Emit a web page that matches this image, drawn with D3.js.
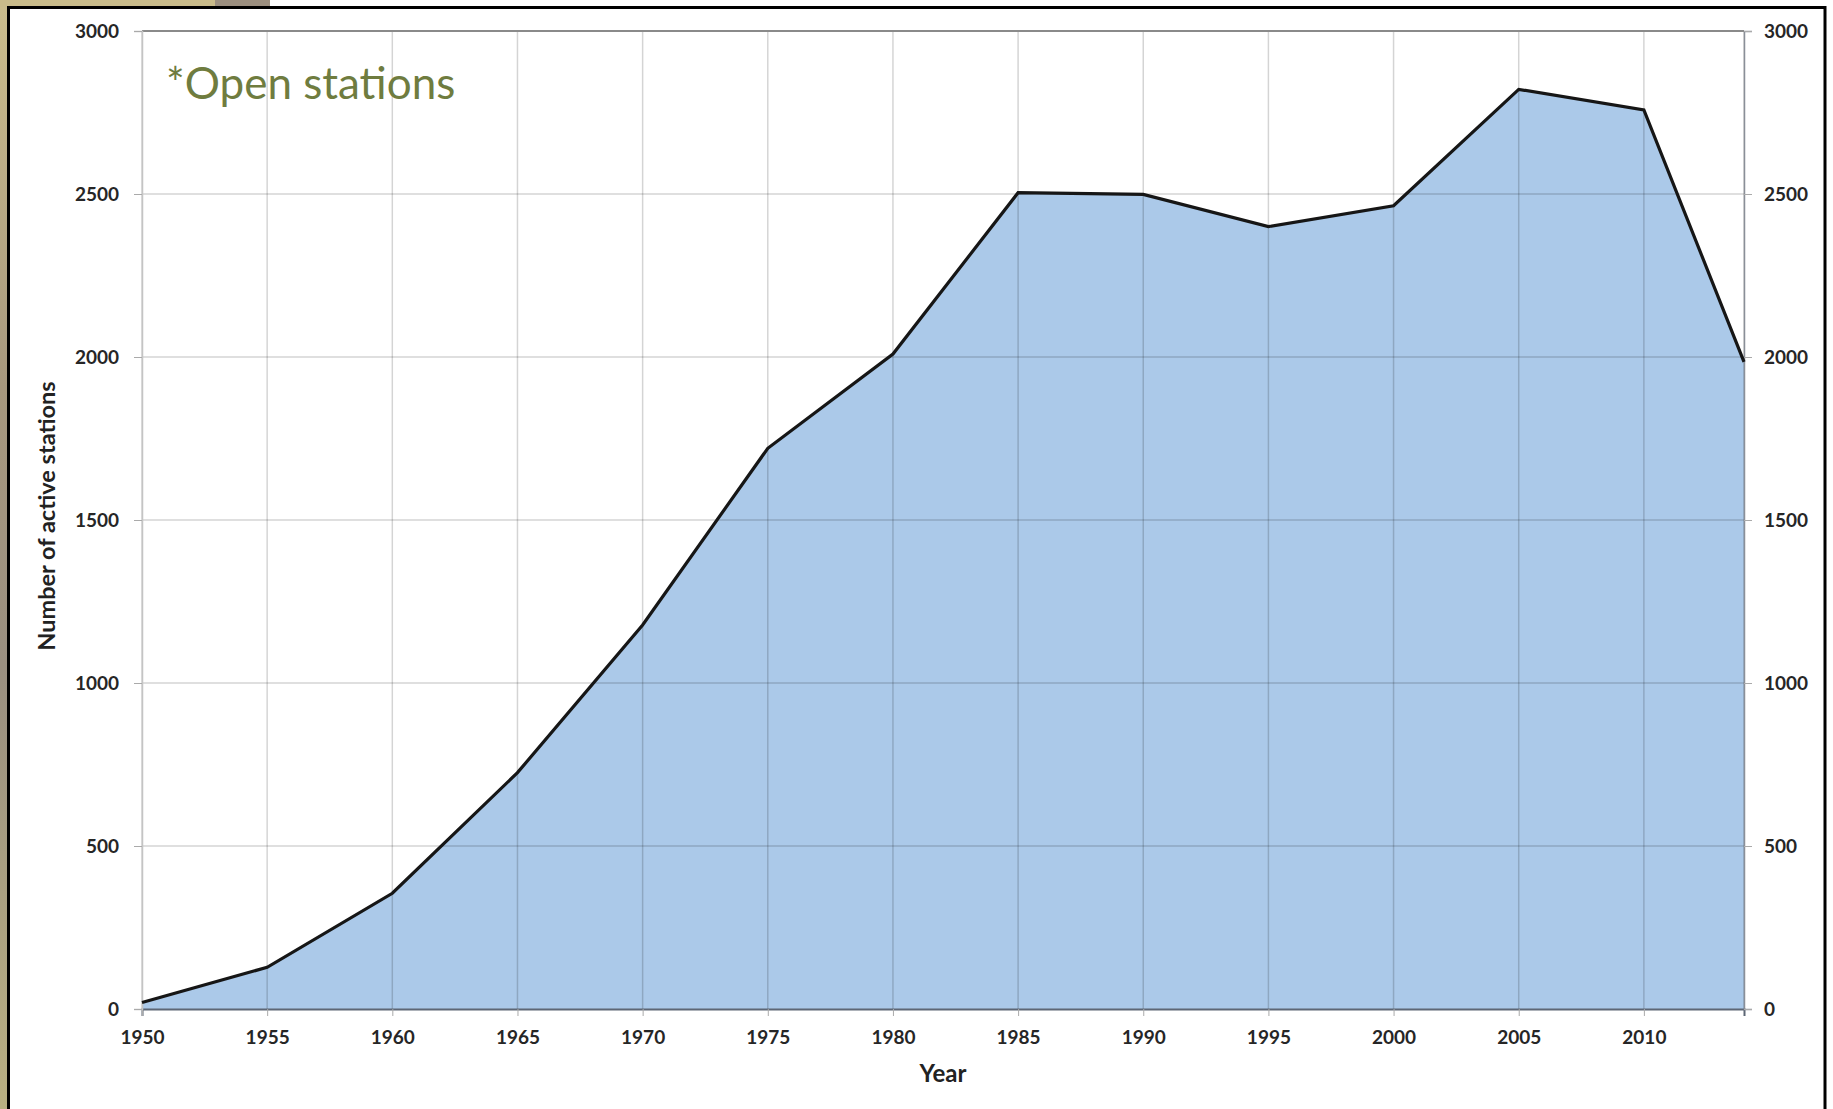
<!DOCTYPE html>
<html>
<head>
<meta charset="utf-8">
<script src="https://cdn.jsdelivr.net/npm/d3@7"></script>
<style>
  html, body { margin: 0; padding: 0; background: #fff; }
  svg { display: block; }
  .tick text { font-family: Lato, "Open Sans", sans-serif; font-weight: bold; fill: #262626; }
</style>
</head>
<body>
<svg id="chart" width="1833" height="1109"></svg>
<script>
// years and number of open stations
const years = [1950, 1955, 1960, 1965, 1970, 1975, 1980, 1985, 1990, 1995, 2000, 2005, 2010, 2014];
const stations = [20, 128, 355, 725, 1178, 1720, 2009, 2504, 2499, 2400, 2464, 2821, 2758, 1985];
const xTicks = [1950, 1955, 1960, 1965, 1970, 1975, 1980, 1985, 1990, 1995, 2000, 2005, 2010];
const yTicks = [0, 500, 1000, 1500, 2000, 2500, 3000];

const W = 1833, H = 1109;
const margin = {left: 142, right: 89, top: 31, bottom: 100};

const svg = d3.select('#chart');

// slide background around the frame
const defs = svg.append('defs');
const bg = defs.append('linearGradient').attr('id', 'bg').attr('x1', 0).attr('y1', 0).attr('x2', 0).attr('y2', 1);
bg.append('stop').attr('offset', '0%').attr('stop-color', '#cbbd8c');
bg.append('stop').attr('offset', '35%').attr('stop-color', '#a7987e');
bg.append('stop').attr('offset', '60%').attr('stop-color', '#9a8f80');
bg.append('stop').attr('offset', '100%').attr('stop-color', '#b9b082');
svg.append('rect').attr('x', 0).attr('y', 0).attr('width', 9).attr('height', H).attr('fill', 'url(#bg)');
svg.append('rect').attr('x', 0).attr('y', 0).attr('width', 215).attr('height', 7).attr('fill', '#c9bb8a');
svg.append('rect').attr('x', 215).attr('y', 0).attr('width', 55).attr('height', 7).attr('fill', '#9c8f7f');

// black frame
svg.append('rect')
  .attr('x', 8.5).attr('y', 7.5)
  .attr('width', 1825 - 8.5).attr('height', H + 20)
  .attr('fill', '#fff').attr('stroke', '#000').attr('stroke-width', 3);

const x = d3.scaleLinear().domain([1950, 2014]).range([margin.left, W - margin.right]);
const y = d3.scaleLinear().domain([0, 3000]).range([H - margin.bottom, margin.top]);

// area
const area = d3.area().x((d, i) => x(years[i])).y0(y(0)).y1(d => y(d));
svg.append('path').datum(stations)
  .attr('d', area)
  .attr('fill', '#abc9e9');

// gridlines on top, half see-through so they darken over the blue
const grid = svg.append('g').attr('stroke', '#000').attr('stroke-opacity', 0.17).attr('stroke-width', 1.5);
grid.selectAll('.vg').data(xTicks.concat([2014])).join('line')
  .attr('x1', d => x(d)).attr('x2', d => x(d))
  .attr('y1', y(3000)).attr('y2', y(0));
grid.selectAll('.hg').data(yTicks.slice(1, -1)).join('line')
  .attr('x1', x(1950)).attr('x2', x(2014))
  .attr('y1', d => y(d)).attr('y2', d => y(d));

// top border
svg.append('line')
  .attr('x1', x(1950)).attr('x2', x(2014))
  .attr('y1', y(3000)).attr('y2', y(3000))
  .attr('stroke', '#8a8a8a').attr('stroke-width', 2);

// axes
const fmt = d3.format('d');
const xAxis = svg.append('g').attr('transform', `translate(0,${y(0)})`)
  .call(d3.axisBottom(x).tickValues(xTicks).tickFormat(fmt).tickSize(7).tickPadding(15));
xAxis.select('.domain').attr('stroke', '#5d6675').attr('stroke-width', 2);
xAxis.selectAll('.tick line').attr('stroke', '#aaa');
xAxis.selectAll('.tick text').attr('font-size', 19);

const yLeft = svg.append('g').attr('transform', `translate(${x(1950)},0)`)
  .call(d3.axisLeft(y).tickValues(yTicks).tickFormat(fmt).tickSize(8).tickPadding(15));
yLeft.select('.domain').attr('stroke', '#c4c4c4').attr('stroke-width', 1.5);
yLeft.selectAll('.tick line').attr('stroke', '#aaa');
yLeft.selectAll('.tick text').attr('font-size', 19);

const yRight = svg.append('g').attr('transform', `translate(${x(2014)},0)`)
  .call(d3.axisRight(y).tickValues(yTicks).tickFormat(fmt).tickSize(8).tickPadding(12));
yRight.select('.domain').attr('stroke', '#8a8f98').attr('stroke-width', 1.5);
yRight.selectAll('.tick line').attr('stroke', '#aaa');
yRight.selectAll('.tick text').attr('font-size', 19);

// outline of the series
const line = d3.line().x((d, i) => x(years[i])).y(d => y(d));
svg.append('path').datum(stations)
  .attr('d', line)
  .attr('fill', 'none')
  .attr('stroke', '#161616')
  .attr('stroke-width', 3.2)
  .attr('stroke-linejoin', 'miter');

// titles
svg.append('text')
  .attr('transform', `translate(55,${(y(0) + y(3000)) / 2 - 4}) rotate(-90)`)
  .attr('text-anchor', 'middle')
  .attr('font-family', 'Lato, sans-serif').attr('font-weight', 'bold')
  .attr('font-size', 23.5).attr('fill', '#222')
  .text('Number of active stations');

svg.append('text')
  .attr('x', (x(1950) + x(2014)) / 2).attr('y', 1082)
  .attr('text-anchor', 'middle')
  .attr('font-family', 'Lato, sans-serif').attr('font-weight', 'bold')
  .attr('font-size', 24).attr('fill', '#222')
  .text('Year');

svg.append('text')
  .attr('x', 166).attr('y', 99)
  .attr('font-family', 'Lato, sans-serif')
  .attr('font-size', 44).attr('fill', '#6f7c3f')
  .text('*Open stations');
</script>
</body>
</html>
